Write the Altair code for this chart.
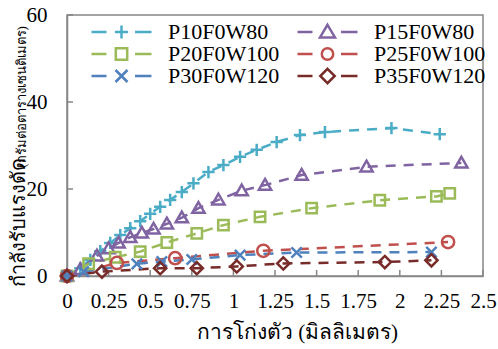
import altair as alt
import pandas as pd

series = ["P10F0W80", "P15F0W80", "P20F0W100", "P25F0W100", "P30F0W120", "P35F0W120"]
colors = ["#4BACC6", "#8064A2", "#9BBB59", "#C0504D", "#4F81BD", "#772C2A"]

p10_x = [0, 0.08, 0.14, 0.20, 0.26, 0.32, 0.38, 0.44, 0.50, 0.56, 0.62, 0.69, 0.76, 0.85, 0.94, 1.04, 1.14, 1.26, 1.40, 1.55, 1.95, 2.24]
p10_y = [0, 1.8, 3.7, 5.7, 7.6, 9.4, 11.0, 12.6, 14.3, 15.9, 17.5, 19.3, 21.3, 23.9, 25.5, 27.4, 29.0, 30.8, 32.4, 33.1, 34.0, 32.6]
p15_x = [0, 0.08, 0.18, 0.25, 0.31, 0.38, 0.45, 0.52, 0.60, 0.69, 0.79, 0.91, 1.05, 1.19, 1.41, 1.80, 2.37]
p15_y = [0, 1.5, 4.6, 6.3, 7.6, 8.9, 9.9, 10.8, 12.0, 13.4, 15.6, 17.5, 19.6, 20.9, 23.2, 25.1, 26.0]
p20_x = [0, 0.13, 0.29, 0.44, 0.60, 0.78, 0.94, 1.16, 1.47, 1.88, 2.22, 2.30]
p20_y = [0, 2.8, 4.3, 5.6, 7.7, 9.8, 11.7, 13.6, 15.6, 17.4, 18.3, 19.0]
p25_x = [0, 0.30, 0.65, 1.18, 2.29]
p25_y = [0, 3.0, 4.1, 5.8, 7.8]
p30_x = [0, 0.10, 0.42, 0.57, 0.75, 1.04, 1.38, 2.19]
p30_y = [0, 1.0, 2.8, 3.3, 3.8, 4.8, 5.4, 5.5]
p35_x = [0, 0.21, 0.56, 0.78, 1.02, 1.30, 1.91, 2.19]
p35_y = [0, 1.0, 1.8, 1.8, 2.2, 2.9, 3.2, 3.6]

xs = [p10_x, p15_x, p20_x, p25_x, p30_x, p35_x]
ys = [p10_y, p15_y, p20_y, p25_y, p30_y, p35_y]

x_ticks = [0, 0.25, 0.5, 0.75, 1, 1.25, 1.5, 1.75, 2, 2.25, 2.5]
y_ticks = [0, 20, 40, 60]

x_title = "การโก่งตัว (มิลลิเมตร)"
y_title_main = "กำลังรับแรงดัด"
y_title_sub = "(กรัมต่อตารางเซนติเมตร)"

marker_paths = [
    "M-1,0L1,0M0,-1L0,1",
    "M0,-1L1,0.75L-1,0.75Z",
    "M-0.85,-0.85L0.85,-0.85L0.85,0.85L-0.85,0.85Z",
    "circle",
    "M-0.85,-0.85L0.85,0.85M-0.85,0.85L0.85,-0.85",
    "M0,-1L1,0L0,1L-1,0Z",
]
dash = "M-1,0L-0.5,0M0.45,0L1,0"
legend_paths = [
    dash + "M-0.22,0L0.22,0M0,-0.22L0,0.22",
    dash + "M0,-0.24L0.25,0.18L-0.25,0.18Z",
    dash + "M-0.19,-0.19L0.19,-0.19L0.19,0.19L-0.19,0.19Z",
    dash + "M0.19,0A0.19,0.19,0,1,1,-0.19,0A0.19,0.19,0,1,1,0.19,0",
    dash + "M-0.2,-0.2L0.2,0.2M-0.2,0.2L0.2,-0.2",
    dash + "M0,-0.24L0.24,0L0,0.24L-0.24,0Z",
]
# legend is filled column by column: left column P10/P20/P30, right column P15/P25/P35
legend_idx = [0, 2, 4, 1, 3, 5]
legend_order = [series[i] for i in legend_idx]
legend_colors = [colors[i] for i in legend_idx]
legend_shapes = [legend_paths[i] for i in legend_idx]

rows = []
for name, xv, yv in zip(series, xs, ys):
    for a, b in zip(xv, yv):
        rows.append({"series": name, "x": a, "y": b})
df = pd.DataFrame(rows)

FONT = "Liberation Serif"
GRAY = "#868686"
color = alt.Color("series:N", scale=alt.Scale(domain=series, range=colors), legend=None)

xenc = alt.X("x:Q", scale=alt.Scale(domain=[0, 2.5], nice=False),
             axis=alt.Axis(values=x_ticks, format=".3~g", title=x_title, grid=False, ticks=False, tickSize=0,
                           labelPadding=14, labelFontSize=21, labelFont=FONT, labelColor="#000000",
                           labelFlush=False, labelOverlap=False,
                           titleFont=FONT, titleFontSize=21, titleFontWeight="normal", titleColor="#000000",
                           titleX=230, titleY=62, titleAlign="center", titleAnchor="middle",
                           titleBaseline="alphabetic",
                           domainColor=GRAY, domainWidth=1.5))
yenc = alt.Y("y:Q", scale=alt.Scale(domain=[0, 60], nice=False),
             axis=alt.Axis(values=y_ticks, title=y_title_main, grid=False, ticks=False, tickSize=0,
                           labelPadding=20, labelFontSize=21, labelFont=FONT, labelColor="#000000",
                           labelFlush=False,
                           titleFont=FONT, titleFontSize=20, titleFontWeight="normal", titleColor="#000000",
                           titleX=-43, titleY=207, titleBaseline="alphabetic", titleAngle=270,
                           domainColor=GRAY, domainWidth=1.5))

leg = alt.Legend(title=None, orient="none", legendX=23, legendY=7, columns=2,
                 symbolSize=3600, clipHeight=20, symbolStrokeWidth=2.5,
                 symbolOpacity=1, symbolFillColor="transparent",
                 labelFont=FONT, labelFontSize=22, labelColor="#000000",
                 labelOffset=15, columnPadding=16, rowPadding=0, labelLimit=300)

base = alt.Chart(df)
lines = base.mark_line(strokeWidth=2.5, strokeDash=[10, 8]).encode(
    x=xenc, y=yenc, color=color, detail="series:N")
points = base.mark_point(filled=False, strokeWidth=2.5, size=150, opacity=1).encode(
    x="x:Q", y="y:Q", color=color,
    shape=alt.Shape("series:N", scale=alt.Scale(domain=series, range=marker_paths), legend=None))
legend_layer = base.mark_point(filled=False, opacity=0).encode(
    x="x:Q", y="y:Q",
    color=alt.Color("series:N", scale=alt.Scale(domain=legend_order, range=legend_colors), legend=leg),
    shape=alt.Shape("series:N", scale=alt.Scale(domain=legend_order, range=legend_shapes), legend=leg))

xtick_layer = alt.Chart(pd.DataFrame({"x": x_ticks})).mark_rule(color=GRAY, strokeWidth=1.5).encode(
    x="x:Q", y=alt.value(255), y2=alt.value(261))
ytick_layer = alt.Chart(pd.DataFrame({"y": y_ticks})).mark_rule(color=GRAY, strokeWidth=1.5).encode(
    y="y:Q", x=alt.value(0), x2=alt.value(6))

sub = alt.Chart(pd.DataFrame({"t": [y_title_sub]})).mark_text(
    angle=270, align="center", baseline="alphabetic", font=FONT, fontSize=13, color="#000000"
).encode(text="t:N", x=alt.value(-41), y=alt.value(82))

chart = alt.layer(lines, xtick_layer, ytick_layer, points, legend_layer, sub).resolve_scale(
    shape="independent", color="independent").properties(
    width=416, height=261,
    autosize=alt.AutoSizeParams(type="none"),
    padding={"left": 67, "top": 15, "right": 15, "bottom": 73},
).configure_view(stroke=GRAY, strokeWidth=1.5)

chart.save("out.html", embed_options={"renderer": "svg", "actions": False})
